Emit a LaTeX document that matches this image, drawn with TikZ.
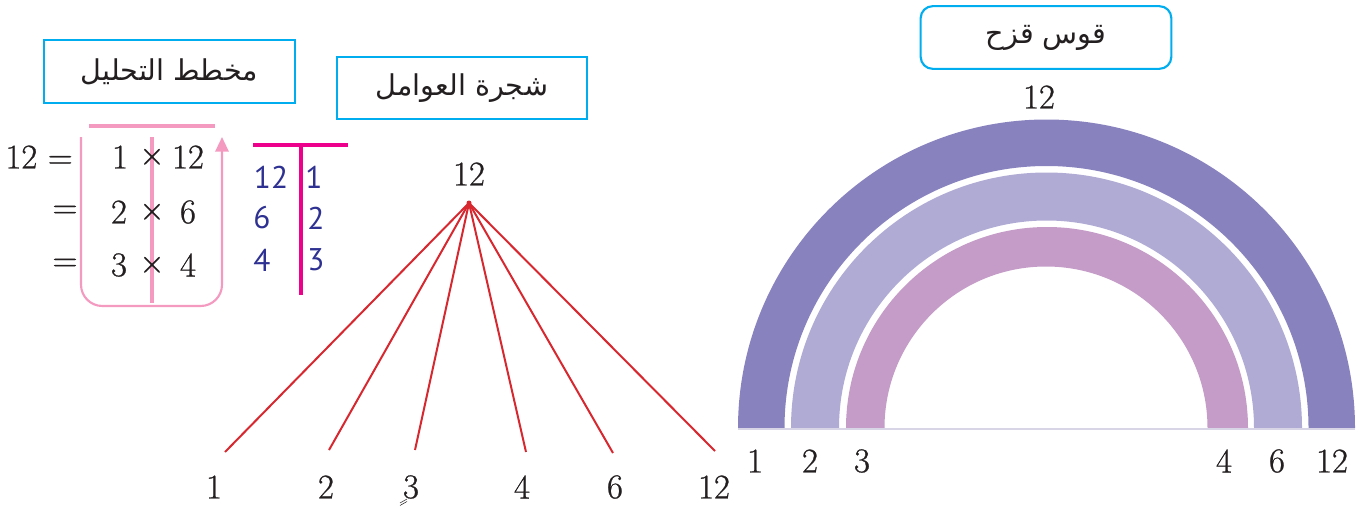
\documentclass[tikz,border=0pt]{standalone}
\usepackage{fontspec}
\usetikzlibrary{arrows.meta}
\newfontfamily\arabicfont[Script=Arabic]{DejaVu Sans}
\newfontfamily\bluesans{PT Sans}
\newfontfamily\numfont{Latin Modern Roman}[FakeBold=0.8]
\TeXXeTstate=1
\definecolor{cyanbox}{HTML}{00AEEF}
\definecolor{inkblack}{HTML}{231F20}
\definecolor{pinkl}{HTML}{F49AC1}
\definecolor{magentat}{HTML}{EC008C}
\definecolor{bluenum}{HTML}{2E3192}
\definecolor{treered}{HTML}{D7282F}
\definecolor{bandA}{HTML}{8882BE}
\definecolor{bandB}{HTML}{B0ABD5}
\definecolor{bandC}{HTML}{C59BC7}
\definecolor{baseg}{HTML}{D8D6E6}
\tikzset{
  titlebox/.style={draw=cyanbox, line width=1.6pt, minimum width=188pt, minimum height=47pt, inner sep=0pt, text=inkblack, font=\arabicfont\fontsize{21.5}{25}\selectfont},
  num/.style={text=inkblack, font=\numfont\fontsize{26}{30}\selectfont, inner sep=0pt, anchor=center},
  bnum/.style={text=bluenum, font=\bluesans\fontsize{23.5}{27}\selectfont, inner sep=0pt},
  treeline/.style={draw=treered, line width=1.5pt},
  pinkline/.style={draw=pinkl, line width=3pt},
}
\begin{document}
\begin{tikzpicture}[x=0.75pt,y=-0.75pt]
\useasboundingbox (0,0) rectangle (1367,507);
% title boxes
\node[titlebox] (tAnal) at (169.5,71.5) {\beginR مخطط التحليل\endR};
\node[titlebox] (tTree) at (462,88) {\beginR شجرة العوامل\endR};
\node[titlebox, rounded corners=9pt] (tRain) at (1046,37.5) {\beginR قوس قزح\endR};

% analysis diagram
\draw[pinkline] (89,126) -- (215,126);
\draw[pinkline] (152,137) -- (152,303);
\coordinate (brA) at (81,137);
\coordinate (brB) at (222,137);
\draw[draw=pinkl, line width=1.6pt, rounded corners=16pt, -{Triangle[width=10pt,length=11pt]}]
  (brA) -- (81,306) -- (222,306) -- (brB);
\node[num, anchor=east] (a12) at (73,157) {12 =};
\node[num] (a1) at (120,157) {1};
\node[num] (ax1) at (152,157) {×};
\node[num] (a12b) at (188,157) {12};
\node[num] (ae2) at (65,212) {=};
\node[num] (a2) at (119,212) {2};
\node[num] (ax2) at (152,212) {×};
\node[num] (a6) at (188,212) {6};
\node[num] (ae3) at (65,265) {=};
\node[num] (a3) at (119,265) {3};
\node[num] (ax3) at (152,265) {×};
\node[num] (a4) at (188,265) {4};

% T chart
\coordinate (tL) at (253,145);
\coordinate (tR) at (348,145);
\coordinate (tT) at (301,145);
\coordinate (tB) at (301,295);
\draw[draw=magentat, line width=3pt] (tL) -- (tR);
\draw[draw=magentat, line width=3pt] (tT) -- (tB);
\node[bnum] (b12) at (271,177) {12};
\node[bnum] (b1) at (314,177) {1};
\node[bnum] (b6) at (262,218) {6};
\node[bnum] (b2) at (316,218) {2};
\node[bnum] (b4) at (262,260) {4};
\node[bnum] (b3) at (316,260) {3};

% factor tree
\node[num] (top) at (469,174) {12};
\coordinate (apex) at (469,203);
\coordinate (e1) at (225,452);
\coordinate (e2) at (329,450);
\coordinate (e3) at (415,450);
\coordinate (e4) at (526,452);
\coordinate (e6) at (613,453);
\coordinate (e12) at (715,451);
\foreach \e in {e1,e2,e3,e4,e6,e12}{\draw[treeline] (apex) -- (\e);}
\fill[treered] (apex) circle[radius=2.5];
\node[num] (f1) at (214,487) {1};
\node[num] (f2) at (326,487) {2};
\node[num] (f3) at (411,487) {3};
\node[num] (f4) at (522,487) {4};
\node[num] (f6) at (615,487) {6};
\node[num] (f12) at (714,487) {12};
\draw[inkblack, line width=0.4pt] (400,503) -- (407,499) (400,505.5) -- (407,501.5);

% rainbow
\fill[bandA] (738,428) arc[start angle=180,end angle=360,radius=308.5] -- (1308.5,428) arc[start angle=360,end angle=180,radius=262] -- cycle;
\fill[bandB] (791,428) arc[start angle=180,end angle=360,radius=255.5] -- (1254,428) arc[start angle=360,end angle=180,radius=207.5] -- cycle;
\fill[bandC] (846,428) arc[start angle=180,end angle=360,radius=201] -- (1207.5,428) arc[start angle=360,end angle=180,radius=161.5] -- cycle;
\coordinate (bl) at (738,429);
\coordinate (br) at (1355,429);
\draw[baseg, line width=0.8pt] (bl) -- (br);
\node[num] (r12) at (1039,97) {12};
\node[num] (r1) at (755,461) {1};
\node[num] (r2) at (810,461) {2};
\node[num] (r3) at (862,461) {3};
\node[num] (r4) at (1224,461) {4};
\node[num] (r6) at (1277,461) {6};
\node[num] (r12b) at (1332,461) {12};
\end{tikzpicture}
\end{document}
